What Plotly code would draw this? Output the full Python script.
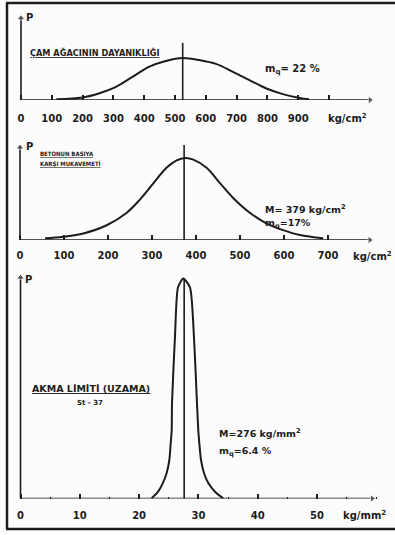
import plotly.graph_objects as go

W, H = 395, 535
INK = "#1c1c1c"
FONT = "DejaVu Sans"

# ---------------- data ----------------
# Panel 1: ÇAM AĞACININ DAYANIKLIĞI (kg/cm2)
p1_x = [115, 200, 255, 305, 362, 415, 470, 525, 580, 633, 688, 740, 795, 850, 905, 935]
p1_p = [0.02, 0.06, 0.16, 0.30, 0.55, 0.79, 0.93, 1.0, 0.95, 0.86, 0.67, 0.48, 0.28, 0.14, 0.05, 0.02]
p1_mean = 525
p1_ticks = [0, 100, 200, 300, 400, 500, 600, 700, 800, 900, 1000]
p1_ticktext = ["0", "100", "200", "300", "400", "500", "600", "700", "800", "900", " "]

# Panel 2: BETONUN BASIYA KARŞI MUKAVEMETİ (kg/cm2)
p2_x = [57, 98, 144, 197, 242, 272, 303, 333, 356, 375, 394, 424, 455, 485, 523, 561, 598, 636, 689]
p2_p = [0.02, 0.04, 0.08, 0.18, 0.33, 0.49, 0.69, 0.88, 0.97, 1.0, 0.98, 0.88, 0.69, 0.51, 0.33, 0.20, 0.12, 0.06, 0.02]
p2_mean = 373
p2_ticks = [0, 100, 200, 300, 400, 500, 600, 700]
p2_ticktext = ["0", "100", "200", "300", "400", "500", "600", "700"]

# Panel 3: AKMA LİMİTİ (UZAMA) St-37 (kg/mm2)
p3_x = [22.1, 23.2, 24.0, 24.65, 25.1, 25.33, 25.5, 25.55, 26.05, 26.56, 27.45,
        28.58, 29.25, 29.76, 29.98, 30.15, 30.44, 30.94, 31.67, 32.8, 34.2]
p3_p = [0.0, 0.031, 0.070, 0.116, 0.175, 0.252, 0.311, 0.434, 0.735, 0.96, 1.0,
        0.96, 0.735, 0.434, 0.311, 0.252, 0.175, 0.116, 0.070, 0.031, 0.0]
p3_mean = 27.6
p3_ticks = [0, 10, 20, 30, 40, 50]
p3_ticktext = ["0", "10", "20", "30", "40", "50"]

# ---------------- layout geometry (pixels) ----------------
panels = [
    dict(px0=21, ppx=0.308, base=100, top=8, ppy=42, xarrow=1133, yarrow=1.95, vtop=1.36, stand=11, smooth=1.0),
    dict(px0=20, ppx=0.44, base=240, top=140, ppy=82, xarrow=795, yarrow=1.13, vtop=1.16, stand=8, smooth=1.0),
    dict(px0=20.5, ppx=5.93, base=498.5, top=272, ppy=220, xarrow=59.3, yarrow=1.005, vtop=1.0, stand=9, smooth=0.6),
]
datasets = [(p1_x, p1_p, p1_mean, p1_ticks, p1_ticktext),
            (p2_x, p2_p, p2_mean, p2_ticks, p2_ticktext),
            (p3_x, p3_p, p3_mean, p3_ticks, p3_ticktext)]


def px(x):
    return x / W


def py(y):
    return 1 - y / H


fig = go.Figure()
annotations = []
layout_axes = {}

for i, (pn, (xs, ps, mean, tv, tt)) in enumerate(zip(panels, datasets), start=1):
    xa = f"x{i}" if i > 1 else "x"
    ya = f"y{i}" if i > 1 else "y"
    xkey = f"xaxis{i}" if i > 1 else "xaxis"
    ykey = f"yaxis{i}" if i > 1 else "yaxis"
    common = dict(xaxis=xa, yaxis=ya, showlegend=False, hoverinfo="skip", cliponaxis=False)
    # axes drawn as arrows (line + triangle head)
    fig.add_trace(go.Scatter(x=[0, pn["xarrow"]], y=[0, 0], mode="lines+markers",
                             line=dict(color=INK, width=1.6),
                             marker=dict(symbol="triangle-right", size=[0, 7], color=INK), **common))
    fig.add_trace(go.Scatter(x=[0, 0], y=[0, pn["yarrow"]], mode="lines+markers",
                             line=dict(color=INK, width=1.6),
                             marker=dict(symbol="triangle-up", size=[0, 7], color=INK), **common))
    fig.add_trace(go.Scatter(x=xs, y=ps, mode="lines",
                             line=dict(color=INK, width=2, shape="spline", smoothing=pn["smooth"]), **common))
    fig.add_trace(go.Scatter(x=[mean, mean], y=[-0.01, pn["vtop"]], mode="lines",
                             line=dict(color=INK, width=1.6), **common))
    xr = [(0 - pn["px0"]) / pn["ppx"], (W - pn["px0"]) / pn["ppx"]]
    yr = [0, (pn["base"] - pn["top"]) / pn["ppy"]]
    xaxis = dict(domain=[0, 1], range=xr, anchor=ya, showgrid=False, zeroline=False, showline=False,
                 tickmode="array", tickvals=tv, ticktext=tt, ticks="inside", ticklen=5, tickwidth=1.5,
                 tickcolor=INK, tickfont=dict(family=FONT, size=10, color=INK, weight="bold"),
                 ticklabelstandoff=pn["stand"])
    if i == 3:
        xaxis["minor"] = dict(ticks="inside", ticklen=2, tickwidth=1.2, tickcolor=INK, dtick=5, tick0=0)
    layout_axes[xkey] = xaxis
    layout_axes[ykey] = dict(domain=[py(pn["base"]), py(pn["top"])], range=yr, anchor=xa, visible=False)


def label(text, x, y, size, xanchor="center", family=FONT):
    annotations.append(dict(x=px(x), y=py(y), xref="paper", yref="paper", text=text, showarrow=False,
                            xanchor=xanchor, yanchor="middle",
                            font=dict(family=family, size=size, color=INK, weight="bold")))


# axis letters and units
label("P", 24, 18, 10, "left")
label("P", 24, 147, 10, "left")
label("P", 23, 279, 10, "left")
label("kg/cm<sup>2</sup>", 347, 118, 10)
label("kg/cm<sup>2</sup>", 372, 256, 10)
label("kg/mm<sup>2</sup>", 364, 515, 10)

# panel titles
COND = "DejaVu Sans Condensed, DejaVu Sans"
label("<u>ÇAM AĞACININ DAYANIKLIĞI</u>", 28, 52, 8.2, "left")
label("<u>BETONUN BASIYA</u>", 38, 153, 6, "left", COND)
label("<u>KARŞI MUKAVEMETİ</u>", 38, 164, 6, "left", COND)
label("<u>AKMA LİMİTİ (UZAMA)</u>", 30, 388, 9.5, "left")
label("St - 37", 90, 403, 7)

# statistics
label("m<sub>q</sub>= 22 %", 263, 69, 10, "left")
label("M= 379 kg/cm<sup>2</sup>", 263, 209, 9.5, "left")
label("m<sub>q</sub>=17%", 263, 223, 9.5, "left")
label("M=276 kg/mm<sup>2</sup>", 217, 433, 9.5, "left")
label("m<sub>q</sub>=6.4 %", 217, 451, 9.5, "left")

# frame of the scanned page
shapes = [
    dict(type="line", xref="paper", yref="paper", x0=px(7), x1=px(7), y0=py(3), y1=py(529),
         line=dict(color=INK, width=2.5)),
    dict(type="line", xref="paper", yref="paper", x0=px(6), x1=px(395), y0=py(3), y1=py(3),
         line=dict(color=INK, width=2.5)),
    dict(type="line", xref="paper", yref="paper", x0=px(6), x1=px(395), y0=py(529), y1=py(529),
         line=dict(color=INK, width=2.5)),
]

fig.update_layout(width=W, height=H, margin=dict(l=0, r=0, t=0, b=0), paper_bgcolor="#fcfcfc",
                  plot_bgcolor="rgba(0,0,0,0)", annotations=annotations, shapes=shapes,
                  font=dict(family=FONT, color=INK), **layout_axes)

fig.write_html("out.html", config={"displayModeBar": False},
               post_script="document.body.style.margin='0';document.body.style.overflow='hidden';")
